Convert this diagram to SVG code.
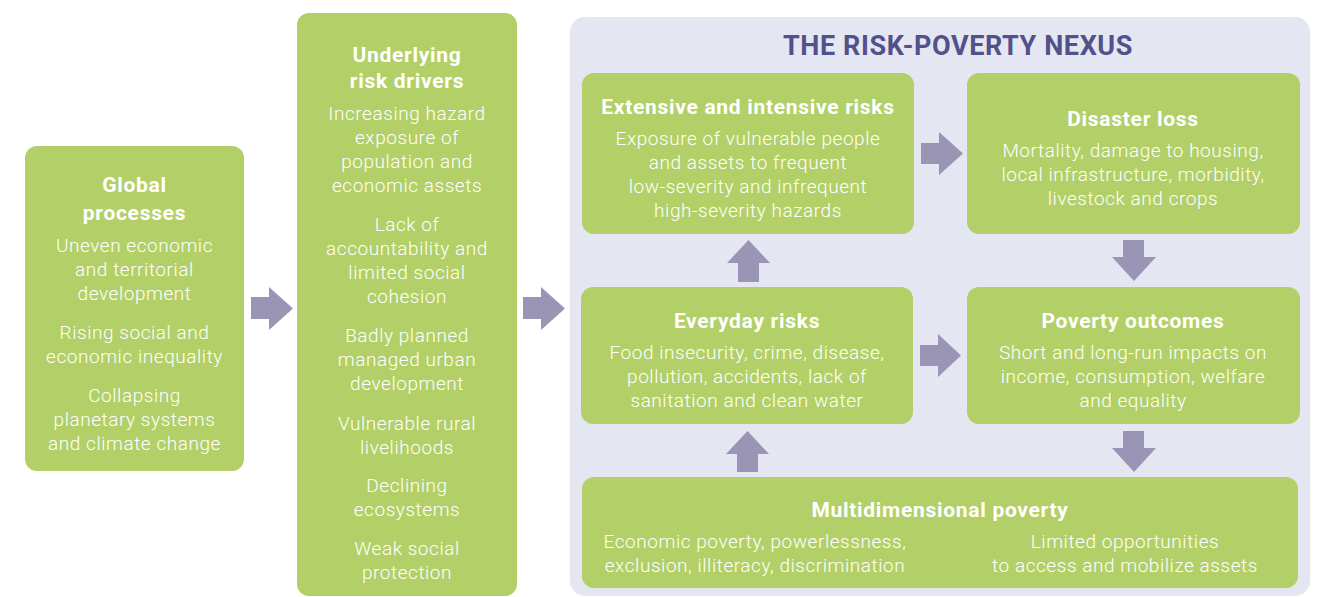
<svg xmlns="http://www.w3.org/2000/svg" width="1319" height="597" viewBox="0 0 1319 597">
<defs>
<style>
.box{fill:#b3cf68;}
.bg{fill:#e4e6f2;}
.arr{fill:#9b95b5;}
text{font-family:Roboto,"Liberation Sans",sans-serif;fill:#ffffff;text-anchor:middle;}
.t{font-weight:700;font-size:21px;letter-spacing:0.7px;}
.b{font-weight:300;font-size:19px;letter-spacing:0.55px;}
.h{font-weight:700;font-size:27px;letter-spacing:0.6px;fill:#52518a;}
</style>
</defs>
<rect width="1319" height="597" fill="#ffffff"/>
<g id="nexus">
<rect class="bg" x="570" y="17" width="740" height="579" rx="15"/>
<text class="h" x="958" y="55">THE RISK-POVERTY NEXUS</text>
</g>
<g id="global">
<rect class="box" x="25" y="146" width="219" height="325" rx="12"/>
<text class="t" x="134.5" y="192">Global</text>
<text class="t" x="134.5" y="220">processes</text>
<text class="b" x="134.5" y="252">Uneven economic</text>
<text class="b" x="134.5" y="276">and territorial</text>
<text class="b" x="134.5" y="300">development</text>
<text class="b" x="134.5" y="339">Rising social and</text>
<text class="b" x="134.5" y="363">economic inequality</text>
<text class="b" x="134.5" y="402">Collapsing</text>
<text class="b" x="134.5" y="426">planetary systems</text>
<text class="b" x="134.5" y="450">and climate change</text>
</g>
<g id="drivers">
<rect class="box" x="297" y="13" width="220" height="583" rx="12"/>
<text class="t" x="407" y="62">Underlying</text>
<text class="t" x="407" y="88">risk drivers</text>
<text class="b" x="407" y="120">Increasing hazard</text>
<text class="b" x="407" y="144">exposure of</text>
<text class="b" x="407" y="168">population and</text>
<text class="b" x="407" y="192">economic assets</text>
<text class="b" x="407" y="231">Lack of</text>
<text class="b" x="407" y="255">accountability and</text>
<text class="b" x="407" y="279">limited social</text>
<text class="b" x="407" y="303">cohesion</text>
<text class="b" x="407" y="342">Badly planned</text>
<text class="b" x="407" y="366">managed urban</text>
<text class="b" x="407" y="390">development</text>
<text class="b" x="407" y="430">Vulnerable rural</text>
<text class="b" x="407" y="454">livelihoods</text>
<text class="b" x="407" y="492">Declining</text>
<text class="b" x="407" y="516">ecosystems</text>
<text class="b" x="407" y="555">Weak social</text>
<text class="b" x="407" y="579">protection</text>
</g>
<g id="extensive">
<rect class="box" x="582" y="73" width="332" height="161" rx="12"/>
<text class="t" x="748" y="114">Extensive and intensive risks</text>
<text class="b" x="748" y="145">Exposure of vulnerable people</text>
<text class="b" x="748" y="169">and assets to frequent</text>
<text class="b" x="748" y="193">low-severity and infrequent</text>
<text class="b" x="748" y="217">high-severity hazards</text>
</g>
<g id="disaster">
<rect class="box" x="967" y="73" width="333" height="161" rx="12"/>
<text class="t" x="1133" y="126">Disaster loss</text>
<text class="b" x="1133" y="157">Mortality, damage to housing,</text>
<text class="b" x="1133" y="181">local infrastructure, morbidity,</text>
<text class="b" x="1133" y="205">livestock and crops</text>
</g>
<g id="everyday">
<rect class="box" x="581" y="287" width="332" height="137" rx="12"/>
<text class="t" x="747" y="328">Everyday risks</text>
<text class="b" x="747" y="359">Food insecurity, crime, disease,</text>
<text class="b" x="747" y="383">pollution, accidents, lack of</text>
<text class="b" x="747" y="407">sanitation and clean water</text>
</g>
<g id="outcomes">
<rect class="box" x="967" y="287" width="333" height="137" rx="12"/>
<text class="t" x="1133" y="328">Poverty outcomes</text>
<text class="b" x="1133" y="359">Short and long-run impacts on</text>
<text class="b" x="1133" y="383">income, consumption, welfare</text>
<text class="b" x="1133" y="407">and equality</text>
</g>
<g id="multidimensional">
<rect class="box" x="582" y="477" width="716" height="111" rx="12"/>
<text class="t" x="940" y="517">Multidimensional poverty</text>
<text class="b" x="755" y="548">Economic poverty, powerlessness,</text>
<text class="b" x="755" y="572">exclusion, illiteracy, discrimination</text>
<text class="b" x="1125" y="548">Limited opportunities</text>
<text class="b" x="1125" y="572">to access and mobilize assets</text>
</g>
<g id="connectors">
<polygon class="arr" points="251,297 269,297 269,287 293,308.5 269,330 269,319 251,319"/>
<polygon class="arr" points="523,297 541,297 541,287 565,308.5 541,330 541,319 523,319"/>
<polygon class="arr" points="921,143 939,143 939,132 963,153.5 939,175 939,164 921,164"/>
<polygon class="arr" points="920,345 938,345 938,334 961,355.5 938,377 938,366 920,366"/>
<polygon class="arr" points="738,282 738,263 727,263 748.5,240 770,263 759,263 759,282"/>
<polygon class="arr" points="737,472 737,454 726,454 747.5,431 769,454 758,454 758,472"/>
<polygon class="arr" points="1123,240 1144,240 1144,257 1156,257 1134,281 1112,257 1123,257"/>
<polygon class="arr" points="1123,431 1144,431 1144,448 1156,448 1134,472 1112,448 1123,448"/>
</g>
</svg>
